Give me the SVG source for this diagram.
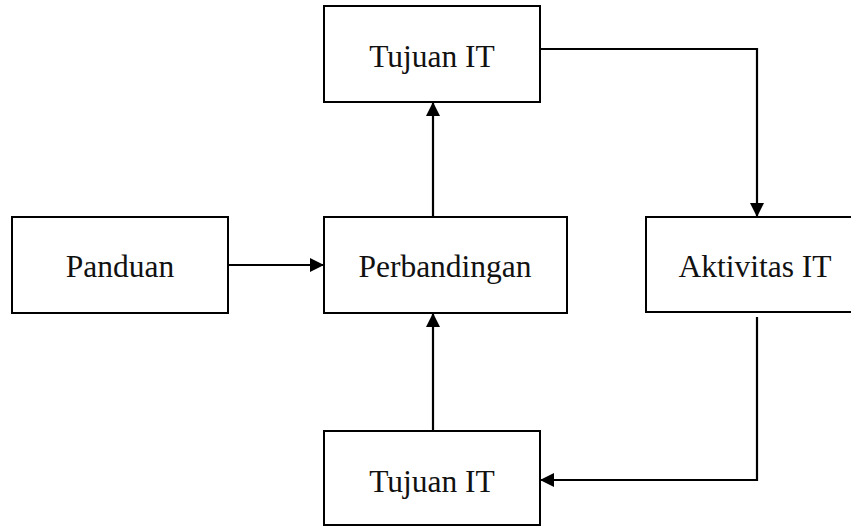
<svg xmlns="http://www.w3.org/2000/svg" width="851" height="526" viewBox="0 0 851 526">
<style>
.box{fill:#fff;stroke:#000;stroke-width:2}
.lbl{font-family:"Liberation Serif","Times New Roman",serif;font-size:31.5px;fill:#111;text-anchor:middle}
.con{fill:none;stroke:#000;stroke-width:2.2}
</style>
<defs>
<marker id="ah" viewBox="0 0 14 14" markerWidth="14" markerHeight="14" refX="14" refY="7" orient="auto" markerUnits="userSpaceOnUse">
<path d="M0,0 L14,7 L0,14 Z" fill="#000"/>
</marker>
</defs>
<rect width="851" height="526" fill="#fff"/>
<g id="tujuan-top">
<rect class="box" x="324" y="6" width="216" height="96"/>
<text class="lbl" x="432" y="67">Tujuan IT</text>
</g>
<g id="panduan">
<rect class="box" x="12" y="217" width="216" height="96"/>
<text class="lbl" x="120" y="277">Panduan</text>
</g>
<g id="perbandingan">
<rect class="box" x="324" y="217" width="243" height="96"/>
<text class="lbl" x="445" y="277">Perbandingan</text>
</g>
<g id="aktivitas">
<rect class="box" x="646" y="217" width="218" height="95"/>
<text class="lbl" x="755" y="277">Aktivitas IT</text>
</g>
<g id="tujuan-bottom">
<rect class="box" x="324" y="431" width="216" height="94"/>
<text class="lbl" x="432" y="492">Tujuan IT</text>
</g>
<g id="connectors">
<path class="con" d="M228,265 H324" marker-end="url(#ah)"/>
<path class="con" d="M433,217 V102" marker-end="url(#ah)"/>
<path class="con" d="M540,49 H757 V217" marker-end="url(#ah)"/>
<path class="con" d="M757,317 V480 H540" marker-end="url(#ah)"/>
<path class="con" d="M433,431 V313" marker-end="url(#ah)"/>
</g>
</svg>
